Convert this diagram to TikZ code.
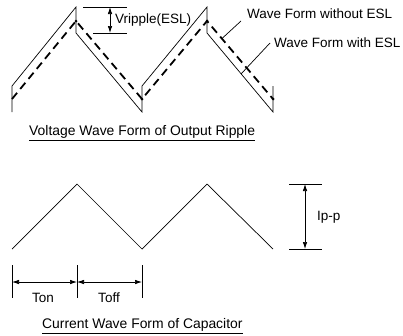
\documentclass[tikz,border=0pt]{standalone}
\usepackage{fontspec}
\setmainfont{Liberation Sans}
\usetikzlibrary{arrows.meta}
\begin{document}
\begin{tikzpicture}[x=1pt,y=-1pt,
  thinline/.style={line width=0.7pt},
  esldash/.style={line width=1.8pt,dash pattern=on 8pt off 5pt},
  dimarrow/.style={line width=0.7pt,{Latex[length=7pt,width=4.5pt]}-{Latex[length=7pt,width=4.5pt]}},
  lbl/.style={inner sep=0pt,font=\fontsize{13.5}{16}\selectfont},
  caplbl/.style={inner sep=0pt,font=\fontsize{13.9}{16}\selectfont},
  vdot/.style={circle,fill=black,inner sep=0pt,minimum size=3pt}]
\useasboundingbox (0,0) rectangle (403,335);
% voltage waveform with ESL (solid)
\coordinate (s0) at (12,112);
\coordinate (s1) at (12,86);
\coordinate (s2) at (76,7);
\coordinate (s3) at (76,33);
\coordinate (s4) at (142,112);
\coordinate (s5) at (142,86);
\coordinate (s6) at (207,7);
\coordinate (s7) at (207,33);
\coordinate (s8) at (273,112);
\coordinate (s9) at (273,86);
\draw[thinline] (s0) -- (s1) -- (s2) -- (s3) -- (s4) -- (s5) -- (s6) -- (s7) -- (s8) -- (s9);
% waveform without ESL (dashed)
\coordinate (d0) at (12,99);
\coordinate (d1) at (76,21);
\coordinate (d2) at (142,99);
\coordinate (d3) at (207,21);
\coordinate (d4) at (273,99);
\draw[esldash] (d0) -- (d1) -- (d2) -- (d3) -- (d4);
\foreach \p in {d1,d2,d3,d4} \node[vdot] at (\p) {};
% Vripple dimension
\coordinate (vt1) at (83,7);
\coordinate (vt2) at (127,7);
\coordinate (vb1) at (93,33);
\coordinate (vb2) at (127,33);
\draw[thinline] (vt1) -- (vt2);
\draw[thinline] (vb1) -- (vb2);
\coordinate (va) at (110,7);
\coordinate (vb) at (110,33);
\draw[dimarrow] (va) -- (vb);
\node[lbl,anchor=west] (vr) at (115,20) {Vripple(ESL)};
% legends
\node[lbl,anchor=west] (wo) at (247,14) {Wave Form without ESL};
\node[lbl,anchor=west] (wi) at (274,43) {Wave Form with ESL};
\coordinate (wop) at (222,38.5);
\coordinate (wip) at (241,74);
\draw[thinline] (241,21) -- (wop);
\draw[thinline] (270,43) -- (wip);
% caption 1
\node[caplbl,anchor=west] (cap1) at (29,133) {\underline{Voltage Wave Form of Output Ripple}};
% current waveform
\coordinate (c0) at (12,249);
\coordinate (c1) at (77,184);
\coordinate (c2) at (142,249);
\coordinate (c3) at (207,184);
\coordinate (c4) at (273,249);
\draw[thinline] (c0) -- (c1) -- (c2) -- (c3) -- (c4);
% Ip-p
\coordinate (it1) at (289,184);
\coordinate (it2) at (322,184);
\coordinate (ib1) at (289,249);
\coordinate (ib2) at (322,249);
\draw[thinline] (it1) -- (it2);
\draw[thinline] (ib1) -- (ib2);
\coordinate (ia) at (305,184);
\coordinate (ib) at (305,249);
\draw[dimarrow] (ia) -- (ib);
\node[lbl,anchor=west] (ipp) at (317,217) {Ip-p};
% Ton / Toff
\coordinate (t0a) at (12,265);
\coordinate (t0b) at (12,298);
\coordinate (t1a) at (77,265);
\coordinate (t1b) at (77,298);
\coordinate (t2a) at (142,265);
\coordinate (t2b) at (142,298);
\draw[thinline] (t0a) -- (t0b);
\draw[thinline] (t1a) -- (t1b);
\draw[thinline] (t2a) -- (t2b);
\coordinate (ta0) at (12,282);
\coordinate (ta1) at (77,282);
\coordinate (ta2) at (142,282);
\draw[dimarrow] (ta0) -- (ta1);
\draw[dimarrow] (ta1) -- (ta2);
\node[lbl] (ton) at (43,298) {Ton};
\node[lbl] (toff) at (109,298) {Toff};
% caption 2
\node[caplbl,anchor=west] (cap2) at (42,326) {\underline{Current Wave Form of Capacitor}};
\end{tikzpicture}
\end{document}
